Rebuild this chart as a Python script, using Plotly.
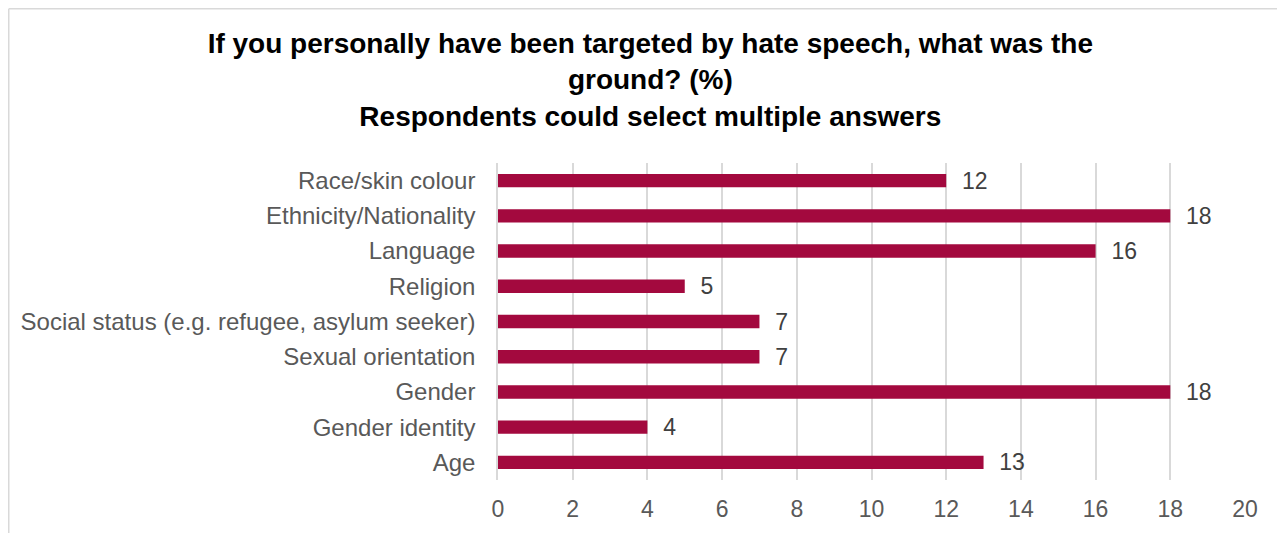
import plotly.graph_objects as go

categories = ["Race/skin colour", "Ethnicity/Nationality", "Language", "Religion",
              "Social status (e.g. refugee, asylum seeker)", "Sexual orientation",
              "Gender", "Gender identity", "Age"]
values = [12, 18, 16, 5, 7, 7, 18, 4, 13]
tick_vals = [0, 2, 4, 6, 8, 10, 12, 14, 16, 18, 20]

title_text = ("If you personally have been targeted by hate speech, what was the<br>"
              "ground? (%)<br>Respondents could select multiple answers")

# page has an 8px body margin; figure sized so it fits the 1285x533 window
OFF = 8
W, H = 1285 - OFF, 533 - OFF
L, R, T, B = 498 - OFF, 40, 163 - OFF, 53
pw, ph = W - L - R, H - T - B

def px(x):
    return (x - OFF - L) / pw

def py(y):
    return (H - B - (y - OFF)) / ph

fig = go.Figure(go.Bar(
    y=categories, x=values, orientation="h",
    marker=dict(color="#A3093E", line=dict(width=0)),
    texttemplate="  %{x}", textposition="outside", constraintext="none",
    textfont=dict(family="Liberation Sans", size=23, color="#404040"),
    cliponaxis=False, width=0.38,
))

fig.update_layout(
    width=W, height=H,
    margin=dict(l=L, r=R, t=T, b=B, pad=0),
    paper_bgcolor="white", plot_bgcolor="white",
    showlegend=False,
    title=dict(text=title_text, x=0.503, xanchor="center", xref="container",
               y=1 - 45 / H, yanchor="top", yref="container",
               font=dict(family="Liberation Sans", size=28, color="#000000",
                         weight="bold")),
    xaxis=dict(range=[0, 20], tickvals=tick_vals, showgrid=True,
               gridcolor="#D9D9D9", gridwidth=1.5, zeroline=False,
               showline=False, ticks="", ticklabelstandoff=13,
               tickfont=dict(family="Liberation Sans", size=23, color="#595959")),
    yaxis=dict(autorange="reversed", showgrid=False, zeroline=False,
               showline=True, linecolor="#D9D9D9", linewidth=1.5, ticks="",
               ticklabelstandoff=16,
               tickfont=dict(family="Liberation Sans", size=24, color="#595959")),
    shapes=[
        dict(type="line", xref="paper", yref="paper", x0=px(8.75), x1=px(8.75),
             y0=py(8.75), y1=py(545), line=dict(color="#D9D9D9", width=1.5)),
        dict(type="line", xref="paper", yref="paper", x0=px(8.75), x1=px(1300),
             y0=py(8.75), y1=py(8.75), line=dict(color="#D9D9D9", width=1.5)),
    ],
)

fig.write_html("out.html")
